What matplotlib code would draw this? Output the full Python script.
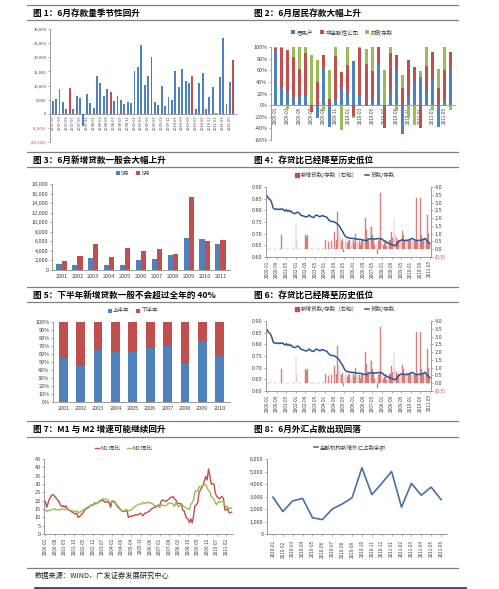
import numpy as np
import matplotlib
matplotlib.use('Agg')
import matplotlib.pyplot as plt
from matplotlib.lines import Line2D
from matplotlib.patches import Patch
from matplotlib.ticker import FuncFormatter

plt.rcParams['font.family'] = ['Noto Sans CJK SC', 'DejaVu Sans']
plt.rcParams['axes.unicode_minus'] = False

W, H = 499, 589
BLUE = '#4F81BD'
RED = '#C0504D'
GREEN = '#9BBB59'
AXC = '#8C8C8C'
TXT = '#404040'
RULE = '#808080'
PINK = '#D98F8D'

# ---- 图1 新增存款 (2007-01 ~ 2011-06)
dep_chg = [4500, 5200, 8700, 4300, 1700, 9000, 1600, 6300, 5500, -4500, 6900, 3700,
           2200, 13300, 10800, 6300, 8700, 7600, 4600, 6300, 4700, 3300, 4000, 3800,
           15000, 16500, 24500, 10300, 13300, 20000, 4000, 3100, 9800, 2800, 5800, 5000,
           15000, 9500, 15700, 11600, 10900, 13400, 1600, 10800, 14400, 1700, 5900, 9400,
           100, 13100, 26800, 3400, 11200, 19200]

# ---- 图2 存款结构 (2009-01 ~ 2011-06), %
hh = [93, 30, 25, 14, 16, 16, 0, -22, 65, -38, 11, 32, 21, 76, 16,
      -2, 9, 72, -5, 25, 63, -49, 16, 39, 49, 25, 43, -37, 9, 65]
corp = [5, 68, 69, 68, 47, 74, -11, 39, 21, 11, 73, 25, 48, -19, 83,
        70, 50, 28, -35, 65, 23, 30, 62, 26, -40, 42, 48, 30, 52, 27]
fiscal = [2, 2, -6, 18, 37, 10, 87, 39, -10, 50, 16, -42, 31, -4, 1,
          27, 41, 0, 60, 10, -10, 22, -22, -35, 10, 33, -9, 33, 39, -8]

# ---- 图3 5月/6月新增贷款
years3 = ['2001', '2002', '2003', '2004', '2005', '2006', '2007', '2008', '2009', '2010', '2011']
loan_may = [1200, 1100, 2500, 1100, 1000, 2000, 2400, 3100, 6600, 6400, 5500]
loan_jun = [1800, 2900, 5400, 2700, 4600, 3900, 4500, 3300, 15300, 6000, 6300]

# ---- 图4/6 存贷比 (2000-01 ~ 2011-05)
ldr = [0.862, 0.852, 0.848, 0.842, 0.828, 0.810, 0.806, 0.804, 0.806, 0.805, 0.803, 0.806,
       0.804, 0.806, 0.800, 0.797, 0.803, 0.796, 0.800, 0.794, 0.797, 0.790, 0.788, 0.786,
       0.788, 0.792, 0.792, 0.786, 0.780, 0.778, 0.776, 0.774, 0.772, 0.772, 0.774, 0.780,
       0.776, 0.772, 0.770, 0.770, 0.776, 0.780, 0.778, 0.775, 0.772, 0.775, 0.778, 0.775,
       0.774, 0.772, 0.770, 0.762, 0.756, 0.754, 0.752, 0.752, 0.750, 0.748, 0.744, 0.740,
       0.735, 0.726, 0.718, 0.710, 0.700, 0.690, 0.686, 0.684, 0.682, 0.680, 0.681, 0.679,
       0.680, 0.678, 0.678, 0.676, 0.677, 0.675, 0.676, 0.674, 0.673, 0.672, 0.671, 0.670,
       0.672, 0.676, 0.678, 0.677, 0.679, 0.676, 0.678, 0.677, 0.679, 0.678, 0.680, 0.676,
       0.678, 0.672, 0.668, 0.666, 0.662, 0.660, 0.658, 0.656, 0.654, 0.652, 0.650, 0.648,
       0.652, 0.660, 0.666, 0.670, 0.672, 0.674, 0.672, 0.670, 0.672, 0.670, 0.673, 0.675,
       0.676, 0.680, 0.678, 0.674, 0.672, 0.670, 0.671, 0.672, 0.670, 0.672, 0.676, 0.675,
       0.680, 0.674, 0.668, 0.662, 0.658]
new_ldr = [0, 0, 0, 0, 0, 0, 0, 0, 0, 0, 0, 0,
           0.9, 0, 0, 0, 0, 0, 0, 0, 0, 0, 0, 0,
           1.7, 0.6, 0, 0, 0, 0, 0, 0, 0.9, 0.8, 0.9, 0,
           0, 0, 0, 0, 0, 0, 0, 0, 0, 0, 0, 0,
           0, 0.6, 0, 0.45, 0, 0, 0.5, 0, 1.1, 0, 0.6, 2.4,
           1.2, 0.8, 0.5, 0.65, -0.15, 0.5, 0.7, 0.4, 0.5, 0.6, 0.3, 0.5,
           0.6, 0.4, 0.95, 0.5, 0.4, 0.5, 0.3, 0.5, 0.6, 0.5, 2.0, 1.25,
           0.7, 0.5, 1.5, 1.4, 0.9, 0.6, 0.3, 0.4, -0.3, 0.5, 0.6, 3.6,
           0.5, 0.3, 0.4, 0.6, 0.2, 0.5, 0.6, 0.6, 1.1, 0.7, 2.0, 1.0,
           0.7, 0.5, 0.6, 0.5, 0.6, 1.2, 0.9, 0.5, 0.6, 0.7, 0.5, 0.6,
           0.6, 0.5, 0.7, 0.5, 0.6, 3.3, 0.5, 0.4, 3.3, 0.9, 0.5, 0.6,
           0.5, 0.6, 2.2, 1.0, 0.4]

# ---- 图5 上/下半年占比
years5 = ['2001', '2002', '2003', '2004', '2005', '2006', '2007', '2008', '2009', '2010']
first_half = [55, 46, 65, 63, 62, 68, 70, 49, 76, 58]
second_half = [45, 54, 35, 37, 38, 32, 30, 51, 24, 42]

# ---- 图7 M1/M2 同比 (2000-01 ~ 2011-06)
m1 = [19.5, 16.0, 18.5, 21.0, 22.5, 23.5, 23.5, 22.5, 21.5, 20.5, 19.5, 17.5,
      16.5, 17.0, 16.0, 17.0, 15.5, 14.5, 14.0, 13.5, 13.0, 12.5, 12.0, 12.5,
      10.0, 10.5, 11.0, 12.0, 13.0, 14.5, 15.0, 15.5, 16.0, 17.0, 17.5, 17.0,
      18.5, 18.0, 18.5, 19.0, 19.5, 20.0, 20.5, 19.5, 19.0, 19.5, 19.0, 18.5,
      16.0, 20.0, 19.5, 19.5, 18.0, 17.0, 16.0, 15.0, 14.0, 13.5, 14.0, 13.5,
      14.5, 10.0, 10.5, 10.5, 11.0, 11.0, 11.5, 11.5, 11.5, 12.0, 12.5, 11.5,
      11.0, 12.5, 12.5, 13.0, 13.5, 14.0, 15.0, 15.5, 16.0, 16.0, 16.5, 17.5,
      16.0, 19.5, 20.5, 20.0, 20.0, 19.5, 20.5, 21.0, 22.0, 22.0, 22.5, 21.0,
      20.5, 18.2, 18.3, 18.2, 18.1, 14.2, 14.0, 11.3, 9.4, 8.9, 6.8, 9.1,
      6.7, 10.9, 17.0, 17.5, 18.7, 24.8, 26.4, 27.7, 29.5, 32.0, 34.6, 32.4,
      39.0, 35.0, 29.9, 30.3, 29.9, 24.6, 22.6, 21.9, 20.9, 22.1, 22.4, 21.2,
      14.4, 14.5, 15.0, 12.9, 12.7, 13.1]
m2 = [14.5, 13.5, 14.0, 14.0, 14.5, 14.5, 15.0, 15.0, 14.5, 14.5, 14.5, 14.5,
      15.0, 15.0, 14.5, 15.0, 14.5, 14.5, 14.5, 14.0, 14.0, 13.5, 13.5, 14.0,
      13.0, 13.0, 13.5, 14.0, 14.5, 15.0, 15.5, 16.0, 16.5, 17.0, 17.5, 17.0,
      19.0, 18.5, 18.5, 19.0, 20.0, 20.5, 21.0, 21.0, 20.5, 21.0, 20.5, 19.5,
      18.5, 19.5, 19.0, 19.0, 17.5, 16.0, 15.5, 14.5, 14.0, 14.0, 14.0, 14.5,
      14.0, 14.0, 14.0, 14.5, 15.0, 16.0, 16.5, 17.0, 17.5, 18.0, 18.0, 18.0,
      19.0, 18.5, 18.5, 19.0, 19.0, 18.5, 18.5, 18.0, 17.0, 17.0, 17.0, 17.0,
      16.0, 17.5, 17.5, 17.0, 17.0, 17.0, 18.0, 18.5, 18.5, 18.5, 18.0, 16.5,
      18.9, 17.5, 16.3, 16.9, 18.1, 17.4, 16.4, 16.0, 15.3, 15.0, 14.8, 17.8,
      18.8, 20.5, 25.5, 26.0, 25.7, 28.5, 28.4, 28.5, 29.3, 29.4, 29.7, 27.7,
      26.0, 25.5, 22.5, 21.5, 21.0, 18.5, 17.6, 19.2, 19.0, 19.3, 19.5, 19.7,
      17.2, 15.7, 16.6, 15.3, 15.1, 15.9]

# ---- 图8 外汇占款 (2010-01 ~ 2011-06)
fx = [2950, 1800, 2650, 2850, 1300, 1150, 2000, 2400, 2900, 5300, 3150, 4050,
      5000, 2150, 4050, 3100, 3750, 2750]


def month_labels(y, m, n):
    out = []
    for i in range(n):
        yy = y + (m - 1 + i) // 12
        mm = (m - 1 + i) % 12 + 1
        out.append(f'{yy}-{mm:02d}')
    return out


fig = plt.figure(figsize=(W / 100, H / 100), dpi=100)


def px_axes(x0, y0, x1, y1):
    return fig.add_axes([x0 / W, 1 - y1 / H, (x1 - x0) / W, (y1 - y0) / H])


def rule(y, x0=27, x1=458, color=RULE, lw=0.9):
    fig.add_artist(Line2D([x0 / W, x1 / W], [1 - y / H, 1 - y / H], color=color, lw=lw))


def title(x, y, s):
    fig.text(x / W, 1 - y / H, s, fontsize=6.2, fontweight='bold', va='center', ha='left')


def legend(handles, labels, x, y, ncol):
    fig.legend(handles, labels, loc='center', bbox_to_anchor=(x / W, 1 - y / H),
               ncol=ncol, frameon=False, fontsize=4, handlelength=0.7, handleheight=0.7,
               handletextpad=0.3, columnspacing=1.2, labelcolor=TXT)


def style(ax, fs=4):
    for s in ('top', 'right'):
        ax.spines[s].set_visible(False)
    for s in ('left', 'bottom'):
        ax.spines[s].set_color(AXC)
        ax.spines[s].set_linewidth(0.6)
    ax.tick_params(labelsize=fs, length=1.5, width=0.5, color=AXC, labelcolor=TXT, pad=1)


# title rules
for y in (5, 20, 152, 167, 287, 302, 421, 437, 568):
    rule(y)

title(33, 13, '图 1：6月存款量季节性回升')
title(254, 13, '图 2：6月居民存款大幅上升')
title(33, 160, '图 3：6月新增贷款一般会大幅上升')
title(254, 160, '图 4：存贷比已经降至历史低位')
title(33, 295, '图 5：下半年新增贷款一般不会超过全年的 40%')
title(254, 295, '图 6：存贷比已经降至历史低位')
title(33, 429, '图 7：M1 与 M2 增速可能继续回升')
title(254, 429, '图 8：6月外汇占款出现回落')

# ---------------- 图1
ax = px_axes(50, 29, 236, 142)
style(ax, 3)
lab1 = month_labels(2007, 1, len(dep_chg))
x1 = np.arange(len(dep_chg))
cols1 = [RED if l.endswith('-06') else BLUE for l in lab1]
ax.bar(x1, dep_chg, width=0.55, color=cols1, zorder=3)
ax.set_xlim(-0.8, len(dep_chg) - 0.2)
ax.set_ylim(-10000, 30000)
ax.set_yticks(range(-10000, 30001, 5000))
ax.yaxis.set_major_formatter(FuncFormatter(lambda v, p: f'{v:,.0f}' if v >= 0 else f'({-v:,.0f})'))
for t, v in zip(ax.get_yticklabels(), range(-10000, 30001, 5000)):
    if v < 0:
        t.set_color(RED)
ax.spines['bottom'].set_position(('data', 0))
ax.set_xticks(x1[::2])
ax.set_xticklabels(lab1[::2], rotation=90)
ax.tick_params(axis='x', length=0, labelsize=2.8)

# ---------------- 图2
ax = px_axes(271, 47, 455, 140)
style(ax, 4)
x2 = np.arange(len(hh))
pos_b = np.zeros(len(hh))
neg_b = np.zeros(len(hh))
for vals, c, name in ((hh, BLUE, '居民户'), (corp, RED, '非金融性公司'), (fiscal, GREEN, '财政存款')):
    v = np.array(vals, dtype=float)
    b = np.where(v >= 0, pos_b, neg_b)
    ax.bar(x2, v, bottom=b, width=0.5, color=c, zorder=3, label=name)
    pos_b = pos_b + np.clip(v, 0, None)
    neg_b = neg_b + np.clip(v, None, 0)
ax.set_xlim(-0.7, len(hh) - 0.3)
ax.set_ylim(-60, 100)
ax.set_yticks(range(-60, 101, 20))
ax.yaxis.set_major_formatter(FuncFormatter(lambda v, p: f'{v:.0f}%'))
ax.spines['bottom'].set_position(('data', 0))
lab2 = month_labels(2009, 1, len(hh))
ax.set_xticks(x2[::2])
ax.set_xticklabels(lab2[::2], rotation=90)
ax.tick_params(axis='x', length=0, labelsize=3.3)
h, l = ax.get_legend_handles_labels()
legend(h, l, 342, 32, 3)

# ---------------- 图3
ax = px_axes(52, 184, 230, 270)
style(ax, 4)
x3 = np.arange(len(years3))
ax.bar(x3 - 0.16, loan_may, width=0.32, color=BLUE, label='5月')
ax.bar(x3 + 0.16, loan_jun, width=0.32, color=RED, label='6月')
ax.set_xlim(-0.6, len(years3) - 0.4)
ax.set_ylim(0, 18000)
ax.set_yticks(range(0, 18001, 2000))
ax.yaxis.set_major_formatter(FuncFormatter(lambda v, p: f'{v:,.0f}'))
ax.set_xticks(x3)
ax.set_xticklabels(years3)
ax.tick_params(axis='x', length=0, pad=3)
h, l = ax.get_legend_handles_labels()
legend(h, l, 133, 173, 2)


# ---------------- 图4 / 图6
def ldr_panel(y0):
    axl = px_axes(266, y0 + 37, 431, y0 + 107)
    axr = axl.twinx()
    style(axl, 4)
    axr.spines['top'].set_visible(False)
    axr.spines['left'].set_visible(False)
    axr.spines['bottom'].set_visible(False)
    axr.spines['right'].set_color(AXC)
    axr.spines['right'].set_linewidth(0.6)
    axr.tick_params(labelsize=4, length=1.5, width=0.5, color=AXC, labelcolor=TXT, pad=1)
    xm = np.arange(len(ldr))
    axr.bar(xm, new_ldr, width=0.6, color=PINK, edgecolor='#C96A67', linewidth=0.25)
    axr.set_ylim(-0.5, 4.0)
    axr.set_yticks(np.arange(-0.5, 4.01, 0.5))
    axr.yaxis.set_major_formatter(FuncFormatter(lambda v, p: f'{v:.1f}' if v >= 0 else f'({-v:.1f})'))
    for t, v in zip(axr.get_yticklabels(), np.arange(-0.5, 4.01, 0.5)):
        if v < 0:
            t.set_color(RED)
    axl.plot(xm, ldr, color='#2B5797', lw=1.1)
    axl.set_zorder(axr.get_zorder() + 1)
    axl.patch.set_visible(False)
    axl.set_ylim(0.60, 0.90)
    axl.set_yticks(np.arange(0.60, 0.901, 0.05))
    axl.yaxis.set_major_formatter(FuncFormatter(lambda v, p: f'{v:.2f}'))
    axl.set_xlim(-1, len(ldr))
    labm = month_labels(2000, 1, len(ldr))
    axl.set_xticks(xm[::8])
    axl.set_xticklabels(labm[::8], rotation=90)
    axl.tick_params(axis='x', labelsize=3.3)
    legend([Patch(color=RED), Line2D([0], [0], color='#2B5797', lw=1.1)],
           ['新增贷款/存款（右轴）', '贷款/存款'], 345, y0 + 25, 2)


ldr_panel(150)
ldr_panel(284)

# ---------------- 图5
ax = px_axes(53, 322, 230, 402)
style(ax, 4)
x5 = np.arange(len(years5))
ax.bar(x5, first_half, width=0.5, color=BLUE, label='上半年')
ax.bar(x5, second_half, bottom=first_half, width=0.5, color=RED, label='下半年')
ax.set_xlim(-0.6, len(years5) - 0.4)
ax.set_ylim(0, 100)
ax.set_yticks(range(0, 101, 10))
ax.yaxis.set_major_formatter(FuncFormatter(lambda v, p: f'{v:.0f}%'))
ax.set_xticks(x5)
ax.set_xticklabels(years5)
ax.tick_params(axis='x', length=0, pad=3)
h, l = ax.get_legend_handles_labels()
legend(h, l, 133, 311, 2)

# ---------------- 图7
ax = px_axes(44, 459, 233, 534)
style(ax, 4)
x7 = np.arange(len(m1))
ax.plot(x7, m1, color=RED, lw=1.0, label='M1:同比')
ax.plot(x7, m2, color=GREEN, lw=1.0, label='M2:同比')
ax.set_xlim(-1, len(m1))
ax.set_ylim(0, 45)
ax.set_yticks(range(0, 46, 5))
lab7 = month_labels(2000, 1, len(m1))
ax.set_xticks(x7[::7])
ax.set_xticklabels(lab7[::7], rotation=90)
ax.tick_params(axis='x', labelsize=3.3)
h, l = ax.get_legend_handles_labels()
legend([Line2D([0], [0], color=RED, lw=1.0), Line2D([0], [0], color=GREEN, lw=1.0)],
       l, 124, 448, 2)

# ---------------- 图8
ax = px_axes(267, 459, 447, 534)
style(ax, 4)
x8 = np.arange(len(fx))
ax.plot(x8, fx, color='#4A6FA5', lw=1.2, label='金融机构新增外汇占款余额')
ax.set_xlim(-0.6, len(fx) - 0.4)
ax.set_ylim(0, 6000)
ax.set_yticks(range(0, 6001, 1000))
ax.yaxis.set_major_formatter(FuncFormatter(lambda v, p: f'{v:,.0f}'))
ax.set_xticks(x8)
ax.set_xticklabels(month_labels(2010, 1, len(fx)), rotation=90)
ax.tick_params(axis='x', labelsize=3.3, pad=3)
legend([Line2D([0], [0], color='#4A6FA5', lw=1.2)], ['金融机构新增外汇占款余额'], 350, 447, 1)

# footer
fig.text(35 / W, 1 - 576 / H, '数据来源：WIND，广发证券发展研究中心', fontsize=5.2,
         va='center', ha='left', color='#222222')
fig.add_artist(Line2D([35 / W, 465 / W], [1 - 588 / H, 1 - 588 / H], color='#1F4E8C', lw=2.0))

fig.savefig('out.png', dpi=100)
